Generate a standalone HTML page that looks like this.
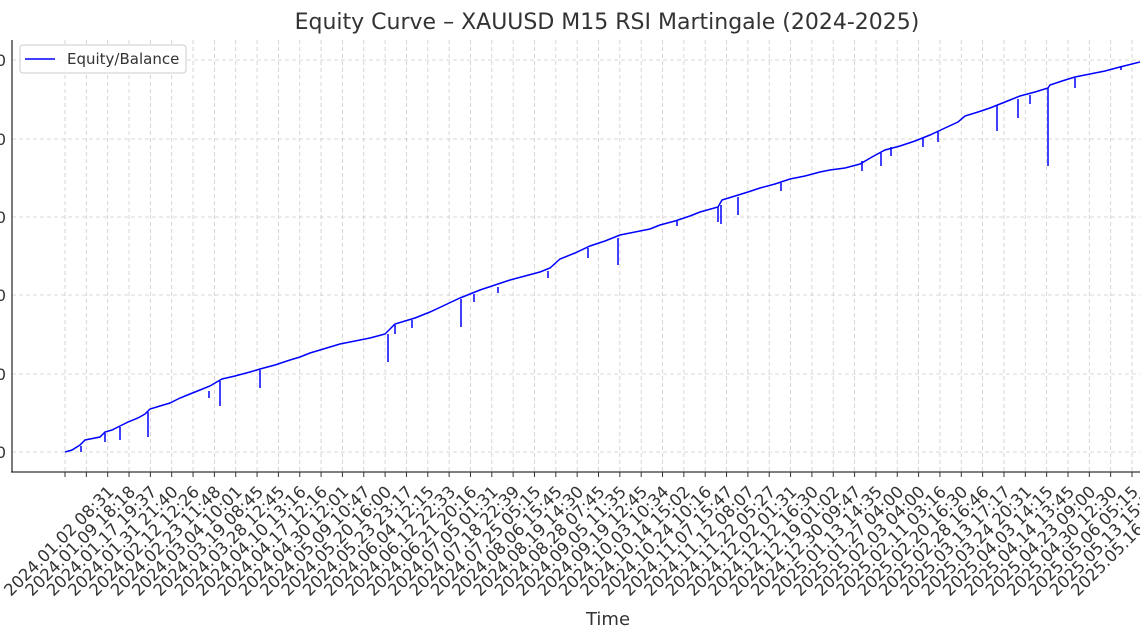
<!DOCTYPE html>
<html><head><meta charset="utf-8"><style>
html,body{margin:0;padding:0;background:#fff;}
svg{display:block;font-family:"DejaVu Sans","Liberation Sans",sans-serif;}
</style></head><body>
<svg id="s" width="1140" height="640" viewBox="0 0 1140 640" xmlns="http://www.w3.org/2000/svg">
<rect width="1140" height="640" fill="#fff"/>
<text x="607" y="29" font-size="22" text-anchor="middle" fill="#333">Equity Curve – XAUUSD M15 RSI Martingale (2024-2025)</text>
<g id="grid" stroke="#cccccc" stroke-width="0.8" stroke-dasharray="4,3">
<line x1="12" x2="1140" y1="452" y2="452"/><line x1="12" x2="1140" y1="374" y2="374"/>
<line x1="12" x2="1140" y1="295" y2="295"/><line x1="12" x2="1140" y1="217" y2="217"/>
<line x1="12" x2="1140" y1="139" y2="139"/><line x1="12" x2="1140" y1="60" y2="60"/>
</g>
<g id="ticks"></g>
<g font-size="16" fill="#333" text-anchor="end">
<text x="6" y="458">0</text><text x="6" y="380">0</text><text x="6" y="301">0</text>
<text x="6" y="223">0</text><text x="6" y="145">0</text><text x="6" y="66">0</text>
</g>
<g fill="none" stroke="#0000ff" stroke-width="1.5">
<polyline points="65,452 72,450 80,445 85,440 100,437 105,432 112,430 120,426 128,422 138,418 145,414 150,409 160,406 170,403 180,398 190,394 200,390 210,386 215,383 222,379 235,376 250,372 260,369 275,365 290,360 300,357 310,353 320,350 330,347 340,344 355,341 370,338 385,334 395,324 405,321 415,318 430,312 445,305 460,298 470,294 480,290 495,285 510,280 525,276 540,272 550,268 560,259 575,253 590,246 605,241 620,235 635,232 650,229 660,225 675,221 690,216 700,212 718,207 722,200 735,196 748,192 760,188 775,184 790,179 805,176 820,172 830,170 845,168 860,164 872,157 885,150 900,146 915,141 930,135 945,128 958,122 965,116 978,112 990,108 1000,104 1010,100 1020,96 1035,92 1048,88 1050,85 1062,81 1075,77 1090,74 1105,71 1120,67 1140,62"/>
<path d="M81,446V452M105,433V442M120,427V440M148,412V437M209,391V398M220,381V406M260,370V388M388,334V362M395,325V334M412,320V328M461,299V327M474,294V302M498,287V293M548,271V278M588,248V258M618,238V265M677,221V226M718,207V222M721,205V224M738,197V215M781,183V191M862,161V171M881,153V166M891,147V156M923,138V147M938,132V142M997,105V131M1018,99V118M1030,95V104M1048,88V166M1075,78V88M1121,66V70"/>
</g>
<g stroke="#333" stroke-width="1.3" fill="none">
<line x1="12" y1="40" x2="12" y2="472"/><line x1="11" y1="472" x2="1140" y2="472"/>
</g>
<rect x="20" y="45" width="166" height="28" rx="3" fill="#fff" fill-opacity="0.85" stroke="#ccc"/>
<line x1="25" y1="59" x2="55" y2="59" stroke="#0000ff" stroke-width="1.5"/>
<text x="67" y="64" font-size="15" fill="#333">Equity/Balance</text>
<text x="608" y="625" font-size="18" fill="#333" text-anchor="middle">Time</text>
</svg>
<script>
var L=["2024.01.02 08:31","2024.01.09 18:18","2024.01.17 19:37","2024.01.31 21:40","2024.02.12 12:26","2024.02.23 11:48","2024.03.04 10:01","2024.03.19 08:45","2024.03.28 12:45","2024.04.10 13:16","2024.04.17 12:16","2024.04.30 12:01","2024.05.09 10:47","2024.05.20 16:00","2024.05.23 23:17","2024.06.04 12:15","2024.06.12 22:33","2024.06.21 20:16","2024.07.05 01:31","2024.07.18 22:39","2024.07.25 05:15","2024.08.06 15:45","2024.08.19 14:30","2024.08.28 07:45","2024.09.05 11:35","2024.09.19 12:45","2024.10.03 10:34","2024.10.14 15:02","2024.10.24 10:16","2024.11.07 15:47","2024.11.12 08:07","2024.11.22 05:27","2024.12.02 01:31","2024.12.12 16:30","2024.12.19 01:02","2024.12.30 09:47","2025.01.13 14:35","2025.01.27 04:00","2025.02.03 04:00","2025.02.11 03:16","2025.02.20 16:30","2025.02.28 16:46","2025.03.13 17:17","2025.03.24 20:31","2025.04.03 14:15","2025.04.14 13:45","2025.04.23 09:00","2025.04.30 12:30","2025.05.06 05:15","2025.05.13 15:15","2025.05.16 15:15"];
var g=document.getElementById('ticks'),h='';
var n=L.length,step=(1132-65)/(n-1);
for(var i=0;i<n;i++){var x=65+i*step;
h+='<line x1="'+x+'" x2="'+x+'" y1="40" y2="472" stroke="#ccc" stroke-width="0.8" stroke-dasharray="4,3"/>';
h+='<line x1="'+x+'" x2="'+x+'" y1="472" y2="477" stroke="#333" stroke-width="1"/>';
h+='<text font-size="16.5" fill="#333" text-anchor="middle" dominant-baseline="central" transform="translate('+(x-6)+',541) rotate(-45)">'+L[i]+'</text>';}
g.innerHTML=h;
</script>
</body></html>
